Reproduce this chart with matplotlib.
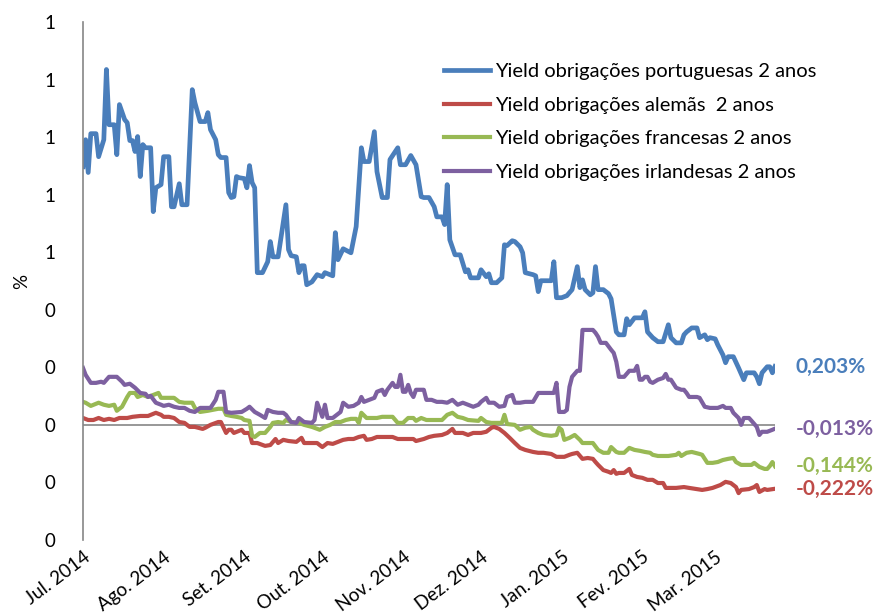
import numpy as np
import pandas as pd
import matplotlib
matplotlib.use('Agg')
import matplotlib.pyplot as plt
from matplotlib.ticker import FuncFormatter

plt.rcParams['font.family'] = ['Lato', 'DejaVu Sans']

# dias contados a partir de 1 de julho de 2014
start = pd.Timestamp('2014-07-01')

# Yield obrigações portuguesas 2 anos (%)
days_pt = [0, 1, 2, 3, 5, 6, 8, 9, 10, 12, 13, 14, 16, 17, 18, 19, 20, 21, 22, 23,
           24, 26, 27, 28, 30, 31, 33, 34, 35, 37, 38, 40, 42, 43, 45, 47, 48, 49, 51, 52,
           53, 55, 56, 57, 58, 59, 60, 62, 63, 64, 65, 66, 67, 69, 71, 72, 73, 75, 78, 79,
           80, 82, 83, 84, 85, 86, 88, 90, 92, 93, 96, 97, 98, 100, 103, 105, 107, 108, 110, 112,
           113, 115, 117, 118, 121, 122, 124, 126, 128, 130, 131, 133, 135, 136, 138, 139, 140, 141, 143, 145,
           147, 148, 149, 152, 153, 155, 156, 157, 159, 161, 162, 163, 165, 166, 168, 169, 170, 173, 174, 175,
           176, 180, 181, 182, 184, 186, 188, 190, 191, 192, 193, 195, 196, 197, 198, 200, 202, 203, 205, 206,
           208, 209, 210, 212, 215, 216, 217, 219, 221, 223, 225, 226, 228, 230, 231, 232, 234, 236, 237, 239,
           240, 241, 243, 244, 246, 247, 248, 250, 252, 254, 255, 258, 259, 260, 261, 263, 264, 265, 266]
pt = [0.897, 0.991, 0.877, 1.012, 1.012, 0.932, 0.991, 1.235, 1.043, 1.043, 0.939, 1.113, 1.061, 1.050, 0.988, 0.988, 0.950, 1.002, 0.863, 0.974,
      0.963, 0.963, 0.741, 0.824, 0.835, 0.932, 0.932, 0.758, 0.758, 0.838, 0.765, 0.765, 1.165, 1.120, 1.054, 1.054, 1.085, 1.026, 0.991, 0.939,
      0.929, 0.929, 0.807, 0.790, 0.793, 0.863, 0.859, 0.856, 0.824, 0.901, 0.842, 0.824, 0.529, 0.529, 0.567, 0.637, 0.584, 0.584, 0.765, 0.609,
      0.588, 0.584, 0.529, 0.553, 0.553, 0.487, 0.497, 0.522, 0.515, 0.529, 0.518, 0.668, 0.574, 0.612, 0.598, 0.689, 0.963, 0.915, 0.915, 1.019,
      0.880, 0.790, 0.790, 0.922, 0.963, 0.904, 0.904, 0.936, 0.904, 0.793, 0.790, 0.790, 0.758, 0.723, 0.723, 0.696, 0.835, 0.643, 0.591, 0.591,
      0.532, 0.539, 0.511, 0.511, 0.539, 0.515, 0.525, 0.494, 0.494, 0.511, 0.626, 0.623, 0.640, 0.637, 0.619, 0.598, 0.529, 0.522, 0.518, 0.463,
      0.501, 0.501, 0.567, 0.442, 0.442, 0.449, 0.470, 0.550, 0.477, 0.504, 0.470, 0.452, 0.459, 0.550, 0.470, 0.470, 0.456, 0.438, 0.323, 0.313,
      0.313, 0.369, 0.348, 0.372, 0.372, 0.393, 0.323, 0.303, 0.289, 0.289, 0.348, 0.303, 0.285, 0.285, 0.313, 0.323, 0.337, 0.337, 0.303, 0.313,
      0.296, 0.303, 0.299, 0.278, 0.243, 0.216, 0.237, 0.237, 0.198, 0.157, 0.181, 0.181, 0.167, 0.143, 0.181, 0.202, 0.202, 0.181, 0.203]

# Yield obrigações alemãs 2 anos (%)
days_de = [0, 2, 4, 6, 8, 10, 12, 14, 17, 19, 22, 25, 28, 30, 31, 33, 35, 37, 39, 41,
           43, 46, 47, 49, 52, 53, 55, 56, 57, 58, 61, 62, 64, 65, 67, 70, 72, 74, 75, 77,
           79, 82, 84, 85, 90, 92, 94, 96, 98, 100, 102, 104, 106, 108, 109, 111, 113, 117, 119, 121,
           127, 128, 131, 133, 135, 138, 140, 142, 143, 146, 148, 150, 153, 155, 157, 158, 160, 162, 164, 166,
           168, 170, 173, 175, 177, 180, 182, 185, 187, 188, 190, 192, 194, 196, 197, 198, 200, 202, 203, 204,
           205, 206, 208, 210, 211, 213, 215, 217, 219, 221, 223, 224, 228, 231, 233, 236, 238, 240, 242, 245,
           247, 249, 251, 252, 253, 256, 258, 259, 260, 262, 263, 266]
de = [0.024, 0.017, 0.017, 0.024, 0.017, 0.021, 0.017, 0.024, 0.024, 0.028, 0.031, 0.031, 0.042, 0.035, 0.028, 0.028, 0.024, 0.010, 0.007, -0.007,
      -0.007, -0.014, -0.010, 0.000, 0.010, 0.010, -0.028, -0.017, -0.017, -0.028, -0.017, -0.028, -0.028, -0.063, -0.063, -0.073, -0.070, -0.049, -0.063, -0.052,
      -0.056, -0.059, -0.045, -0.063, -0.063, -0.077, -0.063, -0.066, -0.059, -0.052, -0.049, -0.049, -0.042, -0.038, -0.052, -0.049, -0.042, -0.042, -0.042, -0.049,
      -0.049, -0.056, -0.049, -0.042, -0.038, -0.035, -0.028, -0.014, -0.028, -0.028, -0.035, -0.028, -0.028, -0.024, -0.010, -0.007, -0.014, -0.028, -0.045, -0.063,
      -0.080, -0.087, -0.094, -0.097, -0.097, -0.101, -0.111, -0.111, -0.104, -0.101, -0.097, -0.118, -0.115, -0.118, -0.129, -0.139, -0.157, -0.163, -0.167, -0.157,
      -0.170, -0.167, -0.167, -0.153, -0.174, -0.181, -0.184, -0.191, -0.191, -0.202, -0.202, -0.219, -0.219, -0.216, -0.219, -0.223, -0.226, -0.223, -0.219, -0.209,
      -0.198, -0.202, -0.216, -0.237, -0.226, -0.223, -0.216, -0.209, -0.233, -0.223, -0.226, -0.222]

# Yield obrigações francesas 2 anos (%)
days_fr = [0, 1, 3, 6, 8, 10, 12, 13, 15, 17, 18, 20, 21, 23, 25, 27, 29, 30, 32, 35,
           37, 39, 42, 43, 45, 48, 52, 54, 55, 57, 59, 61, 62, 64, 65, 66, 68, 70, 72, 73,
           75, 77, 78, 80, 83, 85, 88, 91, 93, 95, 97, 99, 101, 103, 105, 106, 107, 109, 113, 115,
           119, 121, 123, 125, 127, 128, 130, 132, 138, 140, 142, 144, 146, 148, 152, 153, 155, 157, 161, 162,
           163, 166, 168, 170, 172, 173, 175, 177, 180, 182, 183, 184, 185, 187, 189, 191, 192, 195, 196, 198,
           200, 202, 203, 205, 206, 208, 210, 212, 214, 216, 218, 219, 221, 225, 228, 229, 230, 232, 234, 237,
           238, 240, 242, 244, 246, 248, 250, 251, 253, 257, 258, 260, 262, 263, 264, 265, 266]
fr = [0.080, 0.077, 0.066, 0.077, 0.070, 0.066, 0.070, 0.049, 0.063, 0.097, 0.111, 0.111, 0.097, 0.104, 0.097, 0.104, 0.111, 0.094, 0.094, 0.094,
      0.080, 0.077, 0.077, 0.059, 0.045, 0.049, 0.056, 0.056, 0.035, 0.031, 0.028, 0.024, 0.017, 0.014, -0.038, -0.042, -0.028, -0.028, -0.007, 0.007,
      0.010, 0.007, 0.017, 0.010, 0.007, 0.000, -0.007, -0.017, -0.007, 0.000, 0.010, 0.010, 0.017, 0.021, 0.021, 0.007, 0.042, 0.024, 0.024, 0.028,
      0.028, 0.007, 0.007, 0.024, 0.024, 0.014, 0.024, 0.017, 0.017, 0.035, 0.042, 0.028, 0.024, 0.017, 0.014, 0.024, 0.010, 0.007, 0.007, 0.035,
      0.003, 0.000, -0.017, -0.010, -0.007, -0.017, -0.028, -0.035, -0.038, -0.035, -0.010, -0.017, -0.052, -0.045, -0.035, -0.052, -0.063, -0.063, -0.063, -0.087,
      -0.097, -0.097, -0.077, -0.094, -0.097, -0.097, -0.080, -0.087, -0.090, -0.094, -0.097, -0.104, -0.108, -0.108, -0.104, -0.097, -0.108, -0.097, -0.094, -0.101,
      -0.104, -0.132, -0.132, -0.129, -0.122, -0.118, -0.115, -0.129, -0.139, -0.139, -0.132, -0.146, -0.153, -0.153, -0.143, -0.129, -0.144]

# Yield obrigações irlandesas 2 anos (%)
days_ie = [0, 1, 3, 5, 7, 8, 10, 13, 15, 16, 18, 20, 22, 24, 25, 26, 28, 30, 31, 33,
           35, 37, 39, 41, 43, 44, 45, 49, 51, 52, 54, 55, 57, 61, 63, 64, 66, 68, 70, 71,
           73, 75, 77, 78, 80, 82, 83, 85, 88, 89, 90, 92, 93, 94, 96, 99, 100, 102, 104, 106,
           107, 108, 110, 112, 113, 115, 116, 117, 119, 120, 121, 122, 123, 124, 125, 126, 127, 128, 131, 132,
           134, 136, 138, 140, 142, 144, 146, 148, 150, 152, 153, 155, 156, 158, 160, 162, 163, 165, 166, 168,
           170, 172, 173, 175, 178, 181, 182, 183, 185, 186, 187, 188, 190, 191, 192, 194, 196, 197, 198, 199,
           201, 203, 204, 205, 206, 208, 210, 212, 213, 214, 215, 216, 217, 218, 219, 221, 223, 224, 225, 226,
           228, 230, 231, 232, 233, 236, 237, 239, 241, 244, 246, 247, 249, 250, 252, 253, 254, 256, 257, 259,
           260, 261, 263, 265, 266]
ie = [0.198, 0.174, 0.146, 0.146, 0.150, 0.146, 0.167, 0.167, 0.150, 0.139, 0.143, 0.129, 0.111, 0.108, 0.097, 0.101, 0.077, 0.070, 0.066, 0.070,
      0.063, 0.059, 0.059, 0.049, 0.045, 0.052, 0.059, 0.059, 0.087, 0.115, 0.115, 0.045, 0.042, 0.045, 0.056, 0.063, 0.045, 0.035, 0.024, 0.052,
      0.045, 0.042, 0.042, 0.035, 0.010, 0.007, 0.024, 0.010, 0.007, 0.017, 0.077, 0.028, 0.070, 0.024, 0.024, 0.045, 0.077, 0.063, 0.066, 0.077,
      0.097, 0.080, 0.087, 0.094, 0.115, 0.122, 0.104, 0.122, 0.146, 0.132, 0.132, 0.174, 0.115, 0.115, 0.139, 0.111, 0.097, 0.122, 0.122, 0.087,
      0.087, 0.080, 0.080, 0.077, 0.087, 0.070, 0.077, 0.070, 0.063, 0.070, 0.080, 0.094, 0.077, 0.077, 0.063, 0.066, 0.097, 0.104, 0.077, 0.077,
      0.080, 0.080, 0.080, 0.111, 0.111, 0.111, 0.146, 0.045, 0.045, 0.052, 0.132, 0.167, 0.188, 0.188, 0.330, 0.330, 0.330, 0.320, 0.306, 0.285,
      0.285, 0.261, 0.250, 0.219, 0.167, 0.167, 0.188, 0.188, 0.205, 0.157, 0.157, 0.167, 0.167, 0.150, 0.146, 0.157, 0.163, 0.177, 0.157, 0.157,
      0.129, 0.122, 0.122, 0.111, 0.097, 0.097, 0.094, 0.063, 0.059, 0.059, 0.066, 0.059, 0.059, 0.042, 0.024, 0.000, 0.024, 0.024, 0.014, -0.007,
      -0.035, -0.024, -0.024, -0.017, -0.013]

series_labels = ['Yield obrigações portuguesas 2 anos', 'Yield obrigações alemãs  2 anos',
                 'Yield obrigações francesas 2 anos', 'Yield obrigações irlandesas 2 anos']
colors = ['#4A7EBB', '#BE4B48', '#98B954', '#7D60A0']

month_ticks = pd.date_range('2014-07-01', '2015-03-01', freq='MS')
month_labels = ['Jul. 2014', 'Ago. 2014', 'Set. 2014', 'Out. 2014', 'Nov. 2014',
                'Dez. 2014', 'Jan. 2015', 'Fev. 2015', 'Mar. 2015']


def to_dates(days):
    return start + pd.to_timedelta(days, unit='D')


fig = plt.figure(figsize=(8.74, 6.16), dpi=100)
ax = fig.add_axes([83 / 874, 1 - 540 / 616, (775 - 83) / 874, (540 - 22) / 616])

data = [(days_pt, pt), (days_de, de), (days_fr, fr), (days_ie, ie)]
widths = [3.4, 3.0, 3.0, 3.0]
for (d, v), lab, c, w in zip(data, series_labels, colors, widths):
    ax.plot(to_dates(d), v, color=c, lw=w, label=lab, solid_joinstyle='round')

# linha do eixo horizontal em zero
ax.axhline(0, color='#868686', lw=1.2, zorder=1)

x_end = to_dates([days_pt[-1]])[0]
ax.set_xlim(start, x_end)
ax.set_ylim(-0.4, 1.4)
ax.set_yticks(np.arange(-0.4, 1.41, 0.2))
ax.yaxis.set_major_formatter(FuncFormatter(lambda v, p: '%d' % abs(round(v))))
ax.tick_params(axis='y', length=0, pad=20, labelsize=13.5)

ax.set_xticks(month_ticks)
ax.set_xticklabels(month_labels, rotation=37, ha='right', va='top', rotation_mode='anchor', fontsize=13.5)
ax.tick_params(axis='x', length=0, pad=6)

for s in ['top', 'right', 'bottom']:
    ax.spines[s].set_visible(False)
ax.spines['left'].set_color('#868686')
ax.spines['left'].set_linewidth(1.2)

ax.set_ylabel('%', fontsize=13.5, labelpad=10)

# valores finais
for (d, v), c in zip(data, colors):
    txt = ('%.3f' % v[-1]).replace('.', ',') + '%'
    ax.annotate(txt, xy=(to_dates([d[-1]])[0], v[-1]), xytext=(15, 0), textcoords='offset points',
                color=c, fontsize=15, fontweight='bold', va='center', ha='left', annotation_clip=False)

ax.legend(loc='upper left', bbox_to_anchor=(444 / 874, 1 - 63 / 616), bbox_transform=fig.transFigure,
          frameon=False, fontsize=14.5, handlelength=2.3, handletextpad=0.25, labelspacing=0.82,
          borderpad=0, borderaxespad=0)

fig.savefig('out.png', dpi=100)
